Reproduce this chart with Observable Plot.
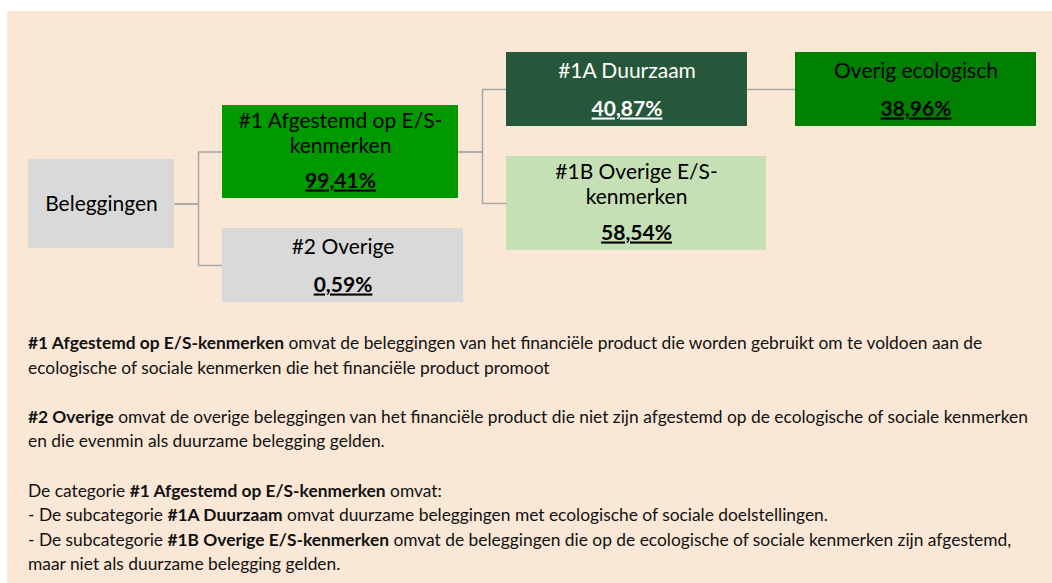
<!DOCTYPE html>
<html>
<head>
<meta charset="utf-8">
<script src="https://cdn.jsdelivr.net/npm/d3@7"></script>
<script src="https://cdn.jsdelivr.net/npm/@observablehq/plot@0.6"></script>
<style>
  html, body { margin: 0; padding: 0; background: #ffffff; }
  #panel { position: absolute; left: 7px; top: 11px; width: 1045px; height: 572px; background: #FAE7D6; overflow: hidden; }
  #chart { position: absolute; left: 0; top: 0; }
  #notes { position: absolute; left: 21px; top: 320px; font-family: Lato, "Noto Sans", sans-serif; font-size: 15px; line-height: 24.6px; color: #111; white-space: nowrap; }
  #notes b { font-weight: 700; }
  #notes .blank { height: 24.6px; }
</style>
</head>
<body>
<div id="panel">
  <div id="chart"></div>
  <div id="notes"></div>
</div>
<script>
// ---- data ----
const labels = ["Beleggingen", "#1 Afgestemd op E/S-\nkenmerken", "#2 Overige", "#1A Duurzaam", "#1B Overige E/S-\nkenmerken", "Overig ecologisch"];
const shares = [null, "99,41%", "0,59%", "40,87%", "58,54%", "38,96%"];
const parents = [null, 0, 0, 1, 1, 3];

// ---- styles ----
const fills = ["#D9D9D9", "#009900", "#D9D9D9", "#26573A", "#C5E0B4", "#008000"];
const inks = ["#000000", "#000000", "#000000", "#FFFFFF", "#000000", "#000000"];

// ---- layout (diagram units = page pixels) ----
const boxLeft = [28, 222, 222, 506, 506, 795];
const boxRight = [174, 458, 463, 747, 766, 1036];
const boxTop = [159, 105, 228, 52, 156, 52];
const boxBottom = [248, 198, 302, 126, 250, 126];

const noteLines = [
  "<b>#1 Afgestemd op E/S-kenmerken</b> omvat de beleggingen van het financiële product die worden gebruikt om te voldoen aan de",
  "ecologische of sociale kenmerken die het financiële product promoot",
  "",
  "<b>#2 Overige</b> omvat de overige beleggingen van het financiële product die niet zijn afgestemd op de ecologische of sociale kenmerken",
  "en die evenmin als duurzame belegging gelden.",
  "",
  "De categorie <b>#1 Afgestemd op E/S-kenmerken</b> omvat:",
  "- De subcategorie <b>#1A Duurzaam</b> omvat duurzame beleggingen met ecologische of sociale doelstellingen.",
  "- De subcategorie <b>#1B Overige E/S-kenmerken</b> omvat de beleggingen die op de ecologische of sociale kenmerken zijn afgestemd,",
  "maar niet als duurzame belegging gelden."
];

const FS = 21, LH = 25 / 21;

const nodes = labels.map((label, i) => {
  const n = label.split("\n").length;
  return {
    label, share: shares[i], parent: parents[i], fill: fills[i], ink: inks[i],
    x1: boxLeft[i], x2: boxRight[i], y1: boxTop[i], y2: boxBottom[i],
    cx: (boxLeft[i] + boxRight[i]) / 2,
    cy: (boxTop[i] + boxBottom[i]) / 2,
    ly: shares[i] == null ? null : boxTop[i] + (28 - 3 * n) - 0.71 * LH * FS,
    py: boxBottom[i] - 11
  };
});
const links = nodes.filter(d => d.parent != null).map(d => {
  const p = nodes[d.parent];
  return {x1: p.x2, y1: p.cy, x2: d.x1, y2: d.cy};
});

const withShare = nodes.filter(d => d.share != null);
const noShare = nodes.filter(d => d.share == null);

const chart = Plot.plot({
  width: 1045,
  height: 310,
  margin: 0,
  x: {domain: [7, 1052], range: [0, 1045], axis: null},
  y: {domain: [11, 321], range: [0, 310], axis: null},
  color: {type: "identity"},
  style: {background: "transparent", overflow: "visible"},
  marks: [
    Plot.link(links, {x1: "x1", y1: "y1", x2: "x2", y2: "y2", curve: "step", stroke: "#A6A6A6", strokeWidth: 1.5}),
    Plot.rect(nodes, {x1: "x1", x2: "x2", y1: "y1", y2: "y2", fill: "fill"}),
    Plot.text(withShare, {x: "cx", y: "ly", text: "label", fill: "ink", fontSize: FS, lineAnchor: "top", lineHeight: LH, fontFamily: "Lato, 'Noto Sans', sans-serif"}),
    Plot.text(noShare, {x: "cx", y: "cy", text: "label", fill: "ink", fontSize: FS, lineAnchor: "middle", fontFamily: "Lato, 'Noto Sans', sans-serif"}),
    Plot.text(withShare, {x: "cx", y: "py", text: "share", fill: "ink", fontSize: FS, fontWeight: "bold", lineAnchor: "bottom", fontFamily: "Lato, 'Noto Sans', sans-serif"})
  ]
});
d3.select(chart).selectAll("text")
  .filter(function() { return /%$/.test(this.textContent); })
  .style("text-decoration", "underline")
  .attr("text-decoration", "underline");
document.getElementById("chart").appendChild(chart);

// notes below the diagram
const notes = d3.select("#notes");
noteLines.forEach(line => {
  if (line === "") notes.append("div").attr("class", "blank");
  else notes.append("div").html(line);
});
// fit the widest line to the reference width (~1000px)
const divs = notes.selectAll("div:not(.blank)").nodes();
const target = divs[2].getBoundingClientRect().width;
const fs = 15 * 1000 / target;
notes.style("font-size", fs.toFixed(2) + "px");
</script>
</body>
</html>
